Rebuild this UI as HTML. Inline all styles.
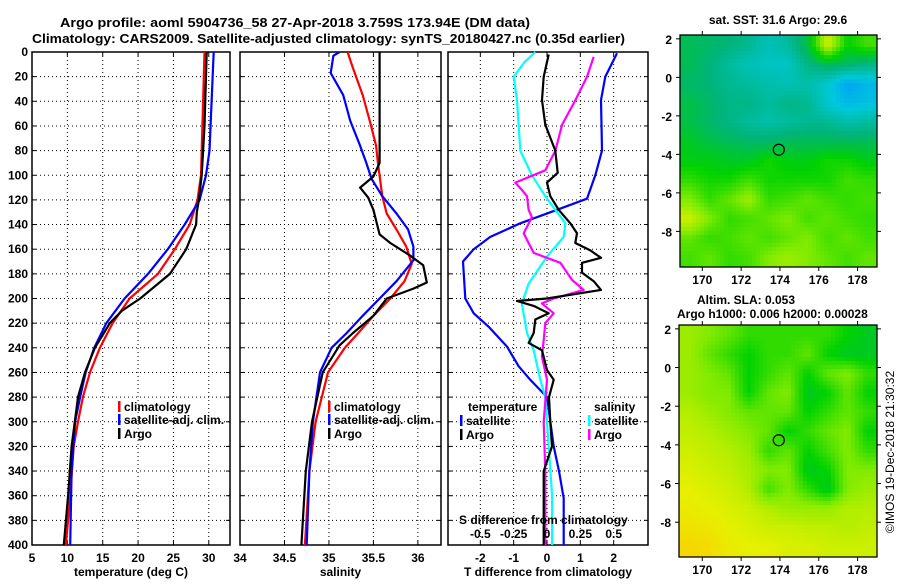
<!DOCTYPE html>
<html><head><meta charset="utf-8"><style>
body{margin:0;background:#fff;}
svg text{font-family:"Liberation Sans",sans-serif;font-weight:bold;font-size:12px;fill:#000;}
</style></head><body>
<svg id="chart" width="900" height="580" viewBox="0 0 900 580" xmlns="http://www.w3.org/2000/svg">
<rect width="900" height="580" fill="#fff"/>
<text x="60" y="27" textLength="470" lengthAdjust="spacingAndGlyphs" style="font-size:13px">Argo profile: aoml 5904736_58 27-Apr-2018 3.759S 173.94E (DM data)</text>
<text x="32" y="43" textLength="593" lengthAdjust="spacingAndGlyphs" style="font-size:13px">Climatology: CARS2009. Satellite-adjusted climatology: synTS_20180427.nc (0.35d earlier)</text>
<g id="plots"></g>
<text transform="translate(894,452) rotate(-90)" text-anchor="middle" style="font-weight:normal;font-size:12px">©IMOS 19-Dec-2018 21:30:32</text>
</svg>
<script>
// ---------- data ----------
const depthTicks=[0,20,40,60,80,100,120,140,160,180,200,220,240,260,280,300,320,340,360,380,400];
const tempTicks=[5,10,15,20,25,30];
const salTicks=[34,34.5,35,35.5,36];
const tdiffTicks=[-2,-1,0,1,2];
const sdiffTicks=[-0.5,-0.25,0,0.25,0.5];
const sdiffTickLabels=["-0.5","-0.25","0","0.25","0.5"];

const tClimDepth=[0,100,120,140,160,180,200,220,240,260,280,300,320,360,400];
const tClim=[29.4,28.9,28.4,27.3,25.2,22.8,18.8,16.4,14.6,13.2,12.2,11.5,10.9,10.4,9.8];
const tSatDepth=[0,40,80,100,120,140,160,180,200,220,240,260,280,300,340,400];
const tSat=[30.7,30.4,30.1,29.6,28.7,26.6,24.2,21.4,18.1,15.5,13.8,12.6,11.8,11.1,10.6,10.4];
const tArgoDepth=[0,60,100,120,130,140,160,180,200,210,220,240,260,280,320,360,400];
const tArgo=[29.7,29.4,29.0,28.6,28.3,28.2,26.8,24.5,20.3,17.7,16.0,13.9,12.5,11.5,10.6,10.1,9.5];

const sClimDepth=[0,11,35,56,76,90,117,131,144,158,172,186,200,214,228,240,260,300,340,400];
const sClim=[35.21,35.26,35.38,35.46,35.53,35.55,35.6,35.65,35.76,35.87,35.93,35.85,35.69,35.5,35.33,35.18,34.99,34.85,34.78,34.73];
const sSatDepth=[0,3,17,35,56,76,90,103,117,131,144,158,169,186,200,214,228,240,260,300,340,400];
const sSat=[35.12,35.05,35.02,35.16,35.24,35.35,35.42,35.48,35.6,35.76,35.89,35.95,35.95,35.76,35.57,35.38,35.2,35.03,34.9,34.82,34.78,34.75];
const sArgoDepth=[0,90,101,110,118,128,148,155,165,173,187,192,200,214,228,238,260,300,340,400];
const sArgo=[35.57,35.57,35.5,35.35,35.44,35.5,35.57,35.69,35.91,36.06,36.1,35.95,35.65,35.5,35.27,35.12,34.93,34.81,34.74,34.69];

const dtSatDepth=[1,20,39,80,100,119,128,139,150,160,170,200,212,223,239,255,266,280,320,340,362,400];
const dtSat=[2.1,1.75,1.62,1.65,1.45,1.2,0.3,-0.8,-1.7,-2.2,-2.52,-2.45,-2.2,-1.75,-1.2,-0.85,-0.5,0.0,0.2,0.36,0.5,0.5];
const dtArgoDepth=[2,20,39,59,80,98,106,117,128,139,147,155,161,167,171,179,186,193,200,202,206,212,217,228,236,242,258,266,280,300,320,340,360,400];
const dtArgo=[0.05,-0.1,-0.15,-0.05,0.25,0.32,0,0.1,0.35,0.7,0.9,0.85,1.3,1.62,1.05,1.05,1.4,1.62,0,-0.9,-0.4,0.05,-0.35,-0.4,-0.55,-0.15,0,0.2,0.06,0.1,0.15,-0.1,-0.1,-0.1];
const dsSatDepth=[0,9,20,39,80,100,119,139,150,166,188,204,228,242,266,280,320,360,400];
const dsSat=[-0.088,-0.175,-0.25,-0.225,-0.2,-0.113,0,0.138,0.125,0,-0.138,-0.188,-0.15,-0.1,-0.05,-0.013,0.013,0.038,0.038];
const dsArgoDepth=[4,20,39,59,80,96,106,112,117,128,134,147,155,163,171,185,193,200,204,212,220,234,247,266,300,340,400];
const dsArgo=[0.35,0.3,0.213,0.113,0.063,-0.013,-0.238,-0.188,-0.15,-0.138,-0.113,-0.175,-0.138,-0.1,0.1,0.188,0.275,0.05,-0.038,0.05,-0.013,-0.025,-0.038,0,-0.025,-0.013,-0.013];

const mapXTicks=[170,172,174,176,178];
const mapYTicks=[2,0,-2,-4,-6,-8];
const sstGrid=[
[0.47,0.46,0.45,0.43,0.40,0.42,0.48,0.66,0.52,0.56],
[0.47,0.45,0.42,0.40,0.39,0.39,0.44,0.47,0.46,0.44],
[0.46,0.45,0.43,0.42,0.41,0.40,0.41,0.38,0.33,0.35],
[0.48,0.46,0.44,0.44,0.42,0.44,0.43,0.38,0.35,0.36],
[0.48,0.46,0.44,0.42,0.41,0.42,0.43,0.43,0.41,0.42],
[0.50,0.48,0.47,0.46,0.46,0.47,0.47,0.47,0.47,0.47],
[0.51,0.51,0.50,0.50,0.53,0.51,0.51,0.53,0.53,0.51],
[0.55,0.53,0.53,0.56,0.53,0.53,0.53,0.53,0.56,0.55],
[0.60,0.55,0.58,0.62,0.55,0.56,0.58,0.56,0.55,0.56],
[0.66,0.60,0.55,0.56,0.58,0.60,0.56,0.58,0.56,0.55],
[0.58,0.55,0.56,0.58,0.56,0.58,0.60,0.56,0.58,0.56],
[0.56,0.58,0.55,0.56,0.60,0.62,0.60,0.58,0.56,0.58]];
const slaGrid=[
[0.62,0.60,0.58,0.55,0.55,0.55,0.55,0.55,0.52,0.50],
[0.62,0.58,0.55,0.52,0.55,0.55,0.58,0.52,0.50,0.50],
[0.62,0.60,0.58,0.52,0.55,0.58,0.52,0.58,0.60,0.55],
[0.62,0.60,0.60,0.52,0.58,0.60,0.50,0.52,0.58,0.52],
[0.64,0.62,0.60,0.58,0.58,0.58,0.52,0.55,0.58,0.55],
[0.65,0.64,0.62,0.60,0.58,0.52,0.55,0.58,0.60,0.52],
[0.66,0.65,0.64,0.62,0.55,0.58,0.52,0.56,0.60,0.55],
[0.67,0.66,0.65,0.63,0.60,0.60,0.50,0.52,0.60,0.60],
[0.68,0.67,0.66,0.64,0.56,0.60,0.55,0.50,0.60,0.62],
[0.69,0.68,0.67,0.66,0.64,0.62,0.62,0.62,0.64,0.64],
[0.71,0.70,0.68,0.67,0.66,0.66,0.65,0.65,0.64,0.65],
[0.73,0.72,0.69,0.68,0.68,0.67,0.67,0.66,0.66,0.66]];
const argoLon=173.94, argoLat=-3.76;

// ---------- drawing ----------
const NS='http://www.w3.org/2000/svg';
const root=document.getElementById('plots');
function mk(tag,attrs,parent){const e=document.createElementNS(NS,tag);for(const k in attrs)e.setAttribute(k,attrs[k]);(parent||root).appendChild(e);return e;}
const Y0=52,Y1=545;
const yD=d=>Y0+(d/400)*(Y1-Y0);

function panel(name,x0,x1,v0,v1,xticks,xlabels,title,showY){
  const g=mk('g',{});
  
  
  const sx=v=>x0+(v-v0)/(v1-v0)*(x1-x0);
  depthTicks.forEach(d=>{
    const y=yD(d);
    if(d>0&&d<400){const l=mk('line',{x1:x0,x2:x1,y1:y,y2:y,stroke:'#000','stroke-width':1,'stroke-dasharray':'1,3'},g);}
    mk('line',{x1:x0,x2:x0+4,y1:y,y2:y,stroke:'#000'},g);
    mk('line',{x1:x1-4,x2:x1,y1:y,y2:y,stroke:'#000'},g);
    if(showY){const t=mk('text',{x:28,y:y+4,'text-anchor':'end'},g);t.textContent=d;}
  });
  xticks.forEach((v,i)=>{
    const x=sx(v);
    if(x>x0+1&&x<x1-1){const l=mk('line',{x1:x,x2:x,y1:Y0,y2:Y1,stroke:'#000','stroke-width':1,'stroke-dasharray':'1,3'},g);}
    mk('line',{x1:x,x2:x,y1:Y1-4,y2:Y1,stroke:'#000'},g);
    mk('line',{x1:x,x2:x,y1:Y0,y2:Y0+4,stroke:'#000'},g);
    const t=mk('text',{x:x,y:562,'text-anchor':'middle'},g);t.textContent=xlabels[i];
  });
  const fr=mk('rect',{x:x0,y:Y0,width:x1-x0,height:Y1-Y0,fill:'none',stroke:'#000','stroke-width':1.5},g);
  
  const tt=mk('text',{x:(x0+x1)/2,y:576,'text-anchor':'middle'},g);tt.textContent=title;
  return {g,sx};
}
function series(p,sx,vals,depths,color,name){
  const pts=vals.map((v,i)=>sx(v).toFixed(1)+','+yD(depths[i]).toFixed(1)).join(' ');
  const l=mk('polyline',{points:pts,fill:'none',stroke:color,'stroke-width':2.2,'stroke-linejoin':'round'},p.g);
  
  
}
function legendEntry(g,x,y,color,label,name){
  mk('rect',{x:x,y:y-6,width:2.5,height:11,fill:color},g);
  const t=mk('text',{x:x+6,y:y+4},g);t.textContent=label;
  
  
}

const p1=panel('temperature-panel',32,230,5,33,tempTicks,tempTicks.map(String),'temperature (deg C)',true);
series(p1,p1.sx,tClim,tClimDepth,'#ff0000','temp-climatology-line');
series(p1,p1.sx,tSat,tSatDepth,'#0000ff','temp-satellite-line');
series(p1,p1.sx,tArgo,tArgoDepth,'#000000','temp-argo-line');
legendEntry(p1.g,118,407,'#ff0000','climatology','legend-climatology');
legendEntry(p1.g,118,420,'#0000ff','satellite-adj. clim.','legend-satellite');
legendEntry(p1.g,118,434,'#000000','Argo','legend-argo');

const p2=panel('salinity-panel',240,441,34,36.26,salTicks,salTicks.map(String),'salinity',false);
series(p2,p2.sx,sClim,sClimDepth,'#ff0000','sal-climatology-line');
series(p2,p2.sx,sSat,sSatDepth,'#0000ff','sal-satellite-line');
series(p2,p2.sx,sArgo,sArgoDepth,'#000000','sal-argo-line');
legendEntry(p2.g,328,407,'#ff0000','climatology','legend-climatology');
legendEntry(p2.g,328,420,'#0000ff','satellite-adj. clim.','legend-satellite');
legendEntry(p2.g,328,434,'#000000','Argo','legend-argo');

const p3=panel('difference-panel',448,648,-2.97,3.03,tdiffTicks,tdiffTicks.map(String),'T difference from climatology',false);
const sxS=v=>p3.sx(v*4);
series(p3,p3.sx,dtSat,dtSatDepth,'#0000ff','tdiff-satellite-line');
series(p3,sxS,dsSat,dsSatDepth,'#00ffff','sdiff-satellite-line');
series(p3,sxS,dsArgo,dsArgoDepth,'#ff00ff','sdiff-argo-line');
series(p3,p3.sx,dtArgo,dtArgoDepth,'#000000','tdiff-argo-line');
{const t=mk('text',{x:468,y:411},p3.g);t.textContent='temperature';}
legendEntry(p3.g,460,421,'#0000ff','satellite','legend-temp-satellite');
legendEntry(p3.g,460,435,'#000000','Argo','legend-temp-argo');
{const t=mk('text',{x:594,y:411},p3.g);t.textContent='salinity';}
legendEntry(p3.g,588,421,'#00ffff','satellite','legend-sal-satellite');
legendEntry(p3.g,588,435,'#ff00ff','Argo','legend-sal-argo');
{const t=mk('text',{x:459,y:524},p3.g);t.textContent='S difference from climatology';}
sdiffTicks.forEach((v,i)=>{const t=mk('text',{x:sxS(v),y:538,'text-anchor':'middle'},p3.g);t.textContent=sdiffTickLabels[i];});

const cstops=[[0.2,[0,60,220]],[0.3,[0,140,255]],[0.37,[0,200,220]],[0.45,[0,180,120]],[0.52,[0,210,0]],[0.6,[130,235,0]],[0.68,[230,240,0]],[0.76,[255,200,0]],[0.9,[230,80,0]],[1,[180,0,0]]];
function cmap(v){
  if(v<=cstops[0][0])return 'rgb('+cstops[0][1]+')';
  for(let i=1;i<cstops.length;i++){if(v<=cstops[i][0]){const a=cstops[i-1],b=cstops[i];const f=(v-a[0])/(b[0]-a[0]);return 'rgb('+a[1].map((c,k)=>Math.round(c+(b[1][k]-c)*f)).join(',')+')';}}
  return 'rgb(180,0,0)';
}
function mapPanel(name,grid,x0,y0,x1,y1,lon0,lon1,lat0,lat1,cell,smooth){
  const g=mk('g',{});
  
  
  const R=grid.length,C=grid[0].length;
  const sx=l=>x0+(l-lon0)/(lon1-lon0)*(x1-x0);
  const sy=l=>y0+(lat0-l)/(lat0-lat1)*(y1-y0);
  for(let y=y0;y<y1;y+=cell){for(let x=x0;x<x1;x+=cell){
    let u=(x+cell/2-x0)/(x1-x0)*C-0.5, w=(y+cell/2-y0)/(y1-y0)*R-0.5;
    u=Math.max(0,Math.min(C-1.001,u));w=Math.max(0,Math.min(R-1.001,w));
    const i=Math.floor(w),j=Math.floor(u),fu=u-j,fw=w-i;
    const v=grid[i][j]*(1-fu)*(1-fw)+grid[i][j+1]*fu*(1-fw)+grid[i+1][j]*(1-fu)*fw+grid[i+1][j+1]*fu*fw;
    mk('rect',{x:x,y:y,width:Math.min(cell,x1-x)+0.3,height:Math.min(cell,y1-y)+0.3,fill:cmap(v)},g);
  }}
  const c=mk('circle',{cx:sx(argoLon),cy:sy(argoLat),r:5.5,fill:'none',stroke:'#000','stroke-width':1.2},g);
  
  mk('rect',{x:x0,y:y0,width:x1-x0,height:y1-y0,fill:'none',stroke:'#000','stroke-width':1.3},g);
  mapXTicks.forEach(l=>{const x=sx(l);mk('line',{x1:x,x2:x,y1:y1,y2:y1+4,stroke:'#000'},g);mk('line',{x1:x,x2:x,y1:y0-4,y2:y0,stroke:'#000'},g);
    const t=mk('text',{x:x,y:y1+17,'text-anchor':'middle'},g);t.textContent=l;});
  mapYTicks.forEach(l=>{const y=sy(l);mk('line',{x1:x0-4,x2:x0,y1:y,y2:y,stroke:'#000'},g);mk('line',{x1:x1,x2:x1+4,y1:y,y2:y,stroke:'#000'},g);
    const t=mk('text',{x:x0-8,y:y+5,'text-anchor':'end'},g);t.textContent=l;});
}
mapPanel('sst-map',sstGrid,680,35,877,267,168.85,179.0,2.2,-9.85,4,false);
mapPanel('sla-map',slaGrid,679,325,877,557,168.8,179.0,2.2,-9.8,4,true);
{const t=mk('text',{x:778,y:24,'text-anchor':'middle'});t.textContent='sat. SST: 31.6 Argo: 29.6';}
{const t=mk('text',{x:697,y:304});t.textContent='Altim. SLA: 0.053';}
{const t=mk('text',{x:677,y:318});t.textContent='Argo h1000: 0.006 h2000: 0.00028';}
</script>
</body></html>
